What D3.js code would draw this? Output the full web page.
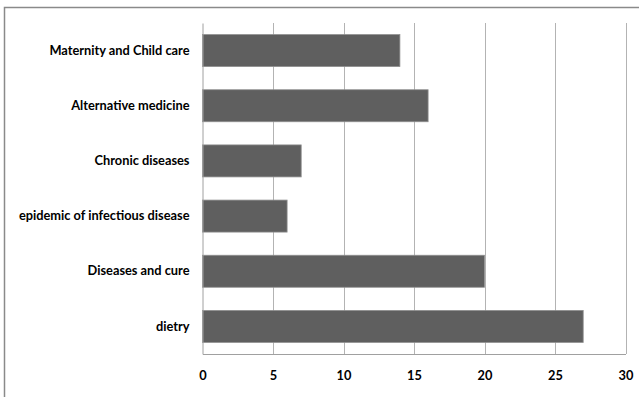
<!DOCTYPE html>
<html>
<head>
<meta charset="utf-8">
<script src="https://cdn.jsdelivr.net/npm/d3@7"></script>
<style>
  html, body { margin: 0; padding: 0; background: #fff; }
  svg { display: block; }
  .tick text { font-family: Lato, "Open Sans", sans-serif; font-weight: bold; fill: #000; }
</style>
</head>
<body>
<script>
// Topics and their counts, listed top to bottom
const categories = [
  "Maternity and Child care",
  "Alternative medicine",
  "Chronic diseases",
  "epidemic of infectious disease",
  "Diseases and cure",
  "dietry"
];
const values = [14, 16, 7, 6, 20, 27];
const xTicks = [0, 5, 10, 15, 20, 25, 30];

const W = 639, H = 397;
const margin = { left: 202.5, right: 13.5, top: 23, bottom: 43 };

const svg = d3.select("body").append("svg")
  .attr("width", W).attr("height", H);

// chart frame (left and top edges)
svg.append("path")
  .attr("d", `M4.5,${H} V7.5 H${W}`)
  .attr("fill", "none").attr("stroke", "#8a8a8a").attr("stroke-width", 1.5);

const x = d3.scaleLinear().domain([0, 30]).range([margin.left, W - margin.right]);
const y = d3.scaleBand().domain(categories)
  .range([margin.top, H - margin.bottom]).paddingInner(0.42).paddingOuter(0.21);

// vertical gridlines
svg.append("g").selectAll("line").data(xTicks.slice(1)).join("line")
  .attr("x1", d => Math.round(x(d)) + 0.5).attr("x2", d => Math.round(x(d)) + 0.5)
  .attr("y1", margin.top).attr("y2", H - margin.bottom)
  .attr("stroke", "#b3b3b3").attr("stroke-width", 1);

// bars
svg.append("g").selectAll("rect").data(values).join("rect")
  .attr("x", x(0))
  .attr("y", (d, i) => y(categories[i]))
  .attr("width", d => x(d) - x(0))
  .attr("height", y.bandwidth())
  .attr("fill", "#5f5f5f")
  .attr("stroke", "#8f8f8f").attr("stroke-width", 0.8);

// x axis
const xAxis = svg.append("g")
  .attr("transform", `translate(0,${H - margin.bottom})`)
  .call(d3.axisBottom(x).tickValues(xTicks).tickSize(0).tickPadding(17));
xAxis.select(".domain").attr("stroke", "#a0a0a0").attr("stroke-width", 1);
xAxis.selectAll(".tick text").attr("font-size", 12.8);

// y axis
const yAxis = svg.append("g")
  .attr("transform", `translate(${x(0)},0)`)
  .call(d3.axisLeft(y).tickSize(0).tickPadding(13));
yAxis.select(".domain").attr("stroke", "#a0a0a0").attr("stroke-width", 1);
yAxis.selectAll(".tick text").attr("font-size", 12.8);
</script>
</body>
</html>
